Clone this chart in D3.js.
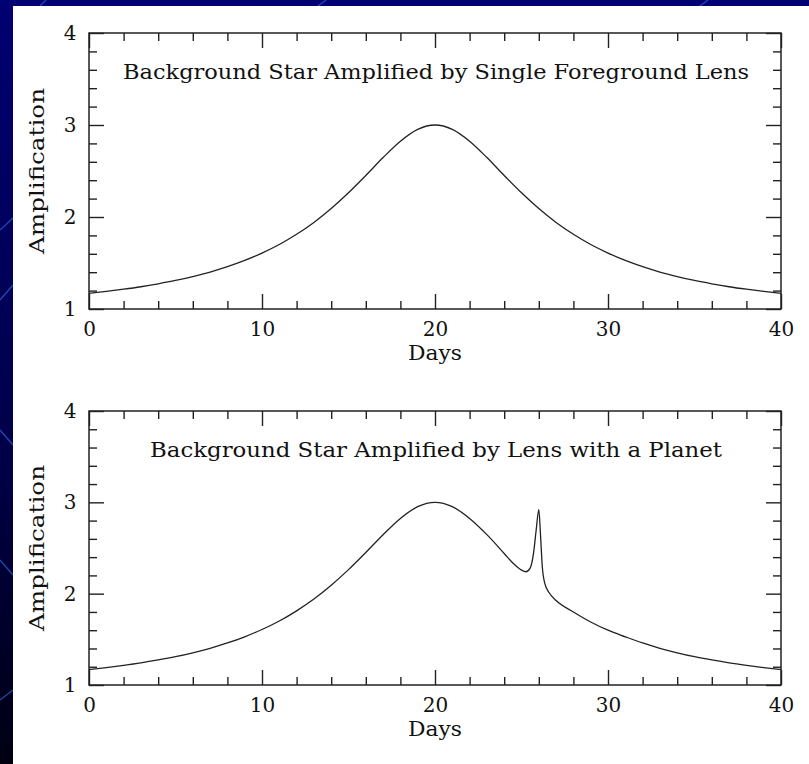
<!DOCTYPE html>
<html>
<head>
<meta charset="utf-8">
<script src="https://cdn.jsdelivr.net/npm/d3@7"></script>
<style>
  body { margin: 0; background: #000050; }
  svg { display: block; }
  text { font-family: "DejaVu Serif", "Liberation Serif", serif; fill: #111; }
</style>
</head>
<body>
<div id="chartDiv"></div>
<script>
// values
var days = [0,1,2,3,4,5,6,7,8,9,10,11,12,13,14,15,16,17,18,19,20,
            21,22,23,24,25,26,27,28,29,30,31,32,33,34,35,36,37,38,39,40];
var singleLens = [1.170,1.191,1.215,1.242,1.274,1.310,1.353,1.402,1.460,1.528,1.608,
                  1.701,1.812,1.941,2.092,2.263,2.451,2.646,2.824,2.953,3.000,
                  2.953,2.824,2.646,2.451,2.263,2.092,1.941,1.812,1.701,1.608,
                  1.528,1.460,1.402,1.353,1.310,1.274,1.242,1.215,1.191,1.170];

var planetDays = [0,1,2,3,4,5,6,7,8,9,10,11,12,13,14,15,16,17,18,19,20,
                  21,22,23,24,24.5,25,25.25,25.5,25.7,25.85,26,26.1,26.2,26.35,26.6,27,
                  28,29,30,31,32,33,34,35,36,37,38,39,40];
var planetLens = [1.170,1.191,1.215,1.242,1.274,1.310,1.353,1.402,1.460,1.528,1.608,
                  1.701,1.812,1.941,2.092,2.263,2.451,2.646,2.824,2.953,3.000,
                  2.953,2.824,2.646,2.440,2.335,2.258,2.240,2.280,2.450,2.700,2.920,2.640,2.300,2.110,2.010,1.925,
                  1.800,1.690,1.600,1.528,1.460,1.402,1.353,1.310,1.274,1.242,1.215,1.191,1.170];

var xMinorTicks = [0,2,4,6,8,10,12,14,16,18,20,22,24,26,28,30,32,34,36,38,40];
var xMajorTicks = [0,10,20,30,40];
var yMinorTicks = [1,1.2,1.4,1.6,1.8,2,2.2,2.4,2.6,2.8,3,3.2,3.4,3.6,3.8,4];
var yMajorTicks = [1,2,3,4];

var titles = ["Background Star Amplified by Single Foreground Lens",
              "Background Star Amplified by Lens with a Planet"];

var svg = d3.select("#chartDiv").append("svg");
svg.attr("width", 809);
svg.attr("height", 764);

// slide background
var defs = svg.append("defs");
var grad = defs.append("linearGradient").attr("id", "bg").attr("x1", 0).attr("y1", 0).attr("x2", 0).attr("y2", 1);
grad.append("stop").attr("offset", "0%").attr("stop-color", "#000072");
grad.append("stop").attr("offset", "60%").attr("stop-color", "#000048");
grad.append("stop").attr("offset", "100%").attr("stop-color", "#000012");
svg.append("rect").attr("width", 809).attr("height", 764).attr("fill", "url(#bg)");

var deco = [[[40,6],[46,0]],[[318,6],[326,0]],[[700,6],[708,0]],[[0,230],[13,218]],
            [[0,300],[13,285]],[[0,560],[13,575]],[[0,700],[13,690]],[[0,430],[13,445]]];
deco.forEach(function(p){
  svg.append("line").attr("x1", p[0][0]).attr("y1", p[0][1]).attr("x2", p[1][0]).attr("y2", p[1][1])
    .attr("stroke", "#2a5fd0").attr("stroke-width", 1.2).attr("opacity", 0.8);
});

svg.append("rect").attr("x", 13).attr("y", 6).attr("width", 796).attr("height", 758).attr("fill", "#ffffff");

var left = 89, right = 781;
var x_scale = d3.scaleLinear().domain([0, 40]).range([left, right]);

function isMajor(d) { return Math.abs(d - Math.round(d)) < 1e-6; }

function drawPanel(top, bottom, xs, ys, title, titleLen) {
  var y_scale = d3.scaleLinear().domain([1, 4]).range([bottom, top]);
  var g = svg.append("g");

  var xAxis = d3.axisBottom(x_scale).tickValues(xMinorTicks).tickSizeInner(-8).tickSizeOuter(0)
      .tickPadding(13).tickFormat(function(d){ return xMajorTicks.indexOf(d) >= 0 ? d : ""; });
  var xTop = d3.axisTop(x_scale).tickValues(xMinorTicks).tickSizeInner(-8).tickSizeOuter(0).tickFormat("");
  var yAxis = d3.axisLeft(y_scale).tickValues(yMinorTicks).tickSizeInner(-8).tickSizeOuter(0)
      .tickPadding(13).tickFormat(function(d){ return isMajor(d) ? Math.round(d) : ""; });
  var yRight = d3.axisRight(y_scale).tickValues(yMinorTicks).tickSizeInner(-8).tickSizeOuter(0).tickFormat("");

  var gx = g.append("g").attr("transform", "translate(0," + bottom + ")").call(xAxis);
  var gxt = g.append("g").attr("transform", "translate(0," + top + ")").call(xTop);
  var gy = g.append("g").attr("transform", "translate(" + left + ",0)").call(yAxis);
  var gyr = g.append("g").attr("transform", "translate(" + right + ",0)").call(yRight);

  gx.selectAll(".tick line").attr("y2", function(d){ return xMajorTicks.indexOf(d) >= 0 ? -15 : -8; });
  gxt.selectAll(".tick line").attr("y2", function(d){ return xMajorTicks.indexOf(d) >= 0 ? 15 : 8; });
  gy.selectAll(".tick line").attr("x2", function(d){ return isMajor(d) ? 15 : 8; });
  gyr.selectAll(".tick line").attr("x2", function(d){ return isMajor(d) ? -15 : -8; });

  [gx, gxt, gy, gyr].forEach(function(a){
    a.select(".domain").remove();
    a.selectAll(".tick line").attr("stroke", "#222").attr("stroke-width", 1.4);
    a.selectAll("text").attr("font-family", "DejaVu Serif").attr("font-size", 20).attr("fill", "#111");
  });
  gy.selectAll("text").attr("text-anchor", "middle").attr("x", -19);

  g.append("rect").attr("x", left).attr("y", top).attr("width", right - left).attr("height", bottom - top)
    .attr("fill", "none").attr("stroke", "#222").attr("stroke-width", 1.5);

  var line = d3.line()
    .x(function(d, i){ return x_scale(xs[i]); })
    .y(function(d){ return y_scale(d); })
    .curve(d3.curveMonotoneX);
  g.append("path").datum(ys).attr("d", line)
    .attr("fill", "none").attr("stroke", "#222").attr("stroke-width", 1.3);

  g.append("text").attr("x", 436).attr("y", top + 46).attr("text-anchor", "middle")
    .attr("font-size", 20).attr("textLength", titleLen).attr("lengthAdjust", "spacingAndGlyphs").text(title);

  g.append("text").attr("x", 435).attr("y", bottom + 51).attr("text-anchor", "middle")
    .attr("font-size", 21).attr("textLength", 54).attr("lengthAdjust", "spacingAndGlyphs").text("Days");

  g.append("text").attr("transform", "translate(44," + ((top + bottom) / 2) + ") rotate(-90)")
    .attr("text-anchor", "middle").attr("font-size", 21)
    .attr("textLength", 166).attr("lengthAdjust", "spacingAndGlyphs").text("Amplification");
}

drawPanel(33, 309, days, singleLens, titles[0], 626);
drawPanel(411, 685, planetDays, planetLens, titles[1], 572);
</script>
</body>
</html>
